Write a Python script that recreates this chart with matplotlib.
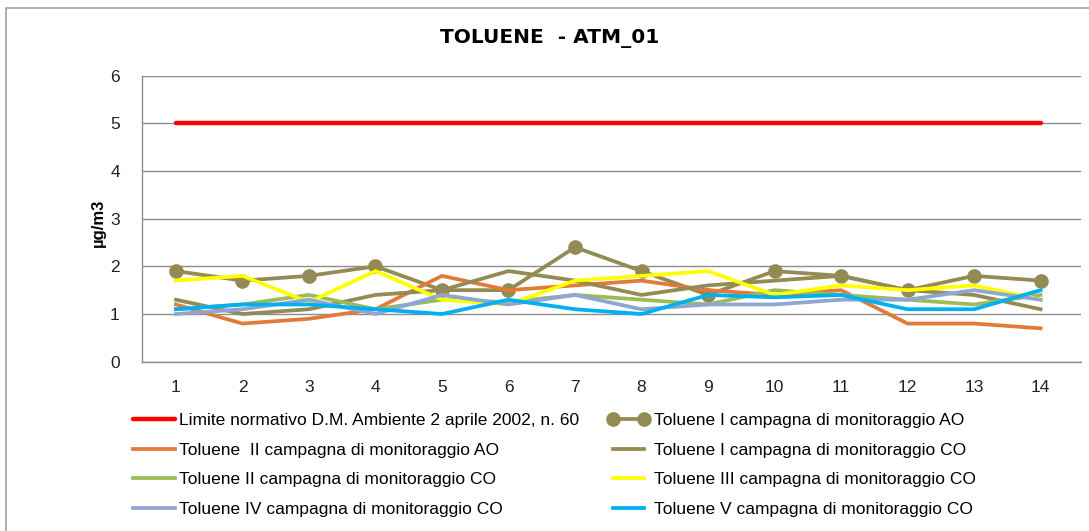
import matplotlib
matplotlib.use("Agg")
import matplotlib.pyplot as plt
from matplotlib.lines import Line2D

# stations / sampling points
points = list(range(1, 15))

limit = [5] * 14
ao_1 = [1.9, 1.7, 1.8, 2.0, 1.5, 1.5, 2.4, 1.9, 1.4, 1.9, 1.8, 1.5, 1.8, 1.7]
ao_2 = [1.2, 0.8, 0.9, 1.1, 1.8, 1.5, 1.6, 1.7, 1.5, 1.4, 1.5, 0.8, 0.8, 0.7]
co_1 = [1.3, 1.0, 1.1, 1.4, 1.5, 1.9, 1.7, 1.4, 1.6, 1.7, 1.8, 1.5, 1.4, 1.1]
co_2 = [1.1, 1.2, 1.4, 1.1, 1.3, 1.25, 1.4, 1.3, 1.2, 1.5, 1.4, 1.3, 1.2, 1.4]
co_3 = [1.7, 1.8, 1.25, 1.9, 1.3, 1.2, 1.7, 1.8, 1.9, 1.4, 1.6, 1.5, 1.6, 1.3]
co_4 = [1.0, 1.1, 1.3, 1.0, 1.4, 1.2, 1.4, 1.1, 1.2, 1.2, 1.3, 1.3, 1.5, 1.3]
co_5 = [1.1, 1.2, 1.2, 1.1, 1.0, 1.3, 1.1, 1.0, 1.4, 1.35, 1.4, 1.1, 1.1, 1.5]

labels = [
    "Limite normativo D.M. Ambiente 2 aprile 2002, n. 60",
    "Toluene I campagna di monitoraggio AO",
    "Toluene  II campagna di monitoraggio AO",
    "Toluene I campagna di monitoraggio CO",
    "Toluene II campagna di monitoraggio CO",
    "Toluene III campagna di monitoraggio CO",
    "Toluene IV campagna di monitoraggio CO",
    "Toluene V campagna di monitoraggio CO",
]

plt.rcParams['font.family'] = ['Liberation Sans', 'DejaVu Sans']

fig = plt.figure(figsize=(10.89, 5.31), dpi=100)
ax = fig.add_axes([0.1304, 0.3188, 0.8618, 0.539])

lw = 2.7
h = []
h += ax.plot(points, limit, color='#FF0000', lw=3.2, solid_capstyle='round')
h += ax.plot(points, ao_1, color='#948A54', lw=lw, marker='o', markersize=9.5)
h += ax.plot(points, ao_2, color='#E07B39', lw=lw)
h += ax.plot(points, co_1, color='#948A54', lw=lw)
h += ax.plot(points, co_2, color='#9BBB59', lw=lw)
h += ax.plot(points, co_3, color='#FFFF00', lw=lw)
h += ax.plot(points, co_4, color='#8EA6D2', lw=lw)
h += ax.plot(points, co_5, color='#00B0F0', lw=lw)

ax.set_xlim(0.49, 14.6)
ax.set_ylim(0, 6)
ax.set_xticks(points)
ax.set_yticks(range(0, 7))
ax.tick_params(length=0, labelsize=12.5, colors='#222222')
ax.tick_params(axis='x', pad=13.5)
ax.tick_params(axis='y', pad=16)
ax.grid(axis='y', color='#8C8C8C', lw=1.0)
ax.set_axisbelow(True)
for s in ['top', 'right']:
    ax.spines[s].set_visible(False)
for s in ['left', 'bottom']:
    ax.spines[s].set_color('#8C8C8C')
    ax.spines[s].set_linewidth(1.0)

ax.set_ylabel('µg/m3', fontsize=12, fontweight='bold')
ax.yaxis.set_label_coords(-0.039, 0.485)

fig.text(0.505, 0.928, 'TOLUENE  - ATM_01', ha='center', va='center',
         fontsize=14.5, fontweight='bold', family='DejaVu Sans')

# legend in two columns, filled row by row
leg_kw = dict(frameon=False, fontsize=12.5, handlelength=2.4, handletextpad=0.25,
              labelspacing=0.83, borderpad=0, borderaxespad=0, loc='upper left')
leg1 = fig.legend([h[0], h[2], h[4], h[6]], [labels[0], labels[2], labels[4], labels[6]],
                  bbox_to_anchor=(133 / 1089, 1 - 413 / 531), **leg_kw)
leg2 = fig.legend([h[1], h[3], h[5], h[7]], [labels[1], labels[3], labels[5], labels[7]],
                  bbox_to_anchor=(608 / 1089, 1 - 413 / 531), numpoints=2, **leg_kw)

# outer chart border
fig.add_artist(Line2D([6 / 1089, 6 / 1089, 1], [0, 1 - 7.5 / 531, 1 - 7.5 / 531],
                      color='#A0A0A0', lw=1.2, transform=fig.transFigure))

fig.savefig('out.png', dpi=100)
